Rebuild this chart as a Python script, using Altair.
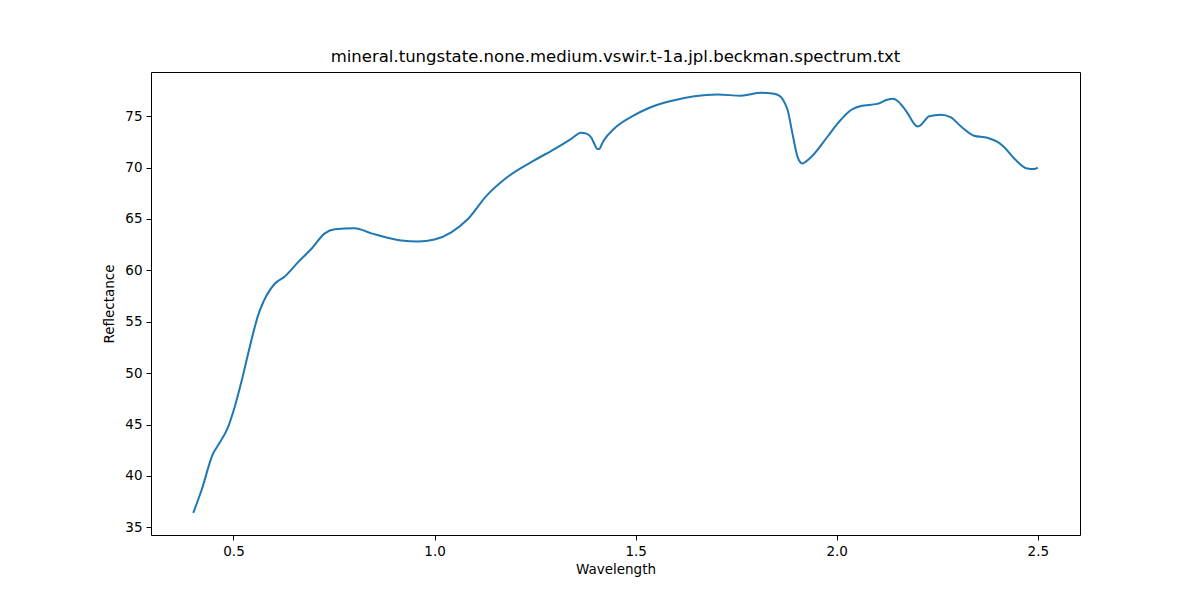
import altair as alt
import pandas as pd

# spectrum
wavelength = [
    0.400, 0.4205, 0.4496, 0.462, 0.487, 0.503, 0.520, 0.5365, 0.553, 0.561,
    0.574, 0.6026, 0.6275, 0.6607, 0.694, 0.727, 0.752, 0.801, 0.843, 0.917,
    0.959, 1.000, 1.0415, 1.083, 1.128, 1.182, 1.248, 1.298, 1.340, 1.364,
    1.378, 1.390, 1.3975, 1.405, 1.410, 1.415, 1.422, 1.447, 1.497, 1.530,
    1.580, 1.646, 1.704, 1.762, 1.812, 1.840, 1.857, 1.868, 1.878, 1.890,
    1.903, 1.910, 1.915, 1.924, 1.936, 1.977, 2.0025, 2.0355, 2.060, 2.101,
    2.125, 2.140, 2.151, 2.163, 2.176, 2.190, 2.201, 2.206, 2.213, 2.230,
    2.259, 2.283, 2.312, 2.341, 2.375, 2.400, 2.416, 2.441, 2.474, 2.4905,
    2.500,
]
reflectance = [
    36.4, 38.6, 42.2, 43.0, 44.8, 46.7, 49.2, 51.9, 54.5, 55.6,
    56.9, 58.7, 59.4, 60.8, 62.1, 63.6, 64.0, 64.1, 63.6, 62.9,
    62.8, 63.0, 63.7, 65.0, 67.2, 69.1, 70.7, 71.8, 72.8, 73.4,
    73.3, 72.9, 72.3, 71.8, 71.8, 72.2, 72.7, 73.8, 75.1, 75.75,
    76.4, 76.95, 77.1, 77.0, 77.27, 77.2, 77.0, 76.5, 75.6, 73.3,
    71.0, 70.5, 70.4, 70.6, 71.0, 73.0, 74.3, 75.6, 76.0, 76.2,
    76.6, 76.7, 76.5, 76.0, 75.3, 74.4, 74.0, 74.05, 74.3, 75.0,
    75.15, 74.9, 73.9, 73.1, 72.9, 72.5, 72.0, 70.9, 69.9, 69.85,
    70.0,
]

df = pd.DataFrame({"Wavelength": wavelength, "Reflectance": reflectance})

font = "DejaVu Sans"

chart = alt.Chart(df).mark_line(
    color="#1f77b4",
    strokeWidth=2,
    interpolate="monotone"
).encode(
    x=alt.X("Wavelength:Q",
            scale=alt.Scale(domain=[0.2949, 2.605], nice=False, zero=False),
            axis=alt.Axis(values=[0.5, 1.0, 1.5, 2.0, 2.5], format=".1f",
                          title="Wavelength", titlePadding=5, grid=False)),
    y=alt.Y("Reflectance:Q",
            scale=alt.Scale(domain=[34.25, 79.3], nice=False, zero=False),
            axis=alt.Axis(values=[35, 40, 45, 50, 55, 60, 65, 70, 75],
                          title="Reflectance", titlePadding=8, grid=False)),
).properties(
    width=929,
    height=463,
    title=alt.TitleParams(
        "mineral.tungstate.none.medium.vswir.t-1a.jpl.beckman.spectrum.txt",
        fontSize=16.5, font=font, fontWeight="normal", color="black",
        anchor="middle", offset=7),
    autosize=alt.AutoSizeParams(type="none"),
    padding={"left": 143, "top": 64, "right": 112, "bottom": 57},
).configure(
    background="white"
).configure_view(
    stroke="black",
    strokeWidth=1,
).configure_axis(
    grid=False,
    domain=False,
    tickColor="black",
    tickSize=5,
    tickWidth=1,
    labelFont=font,
    labelFontSize=13.5,
    labelColor="black",
    labelPadding=4,
    titleFont=font,
    titleFontSize=13.5,
    titleFontWeight="normal",
    titleColor="black",
)

chart.save("out.html", embed_options={"renderer": "svg", "actions": False})
